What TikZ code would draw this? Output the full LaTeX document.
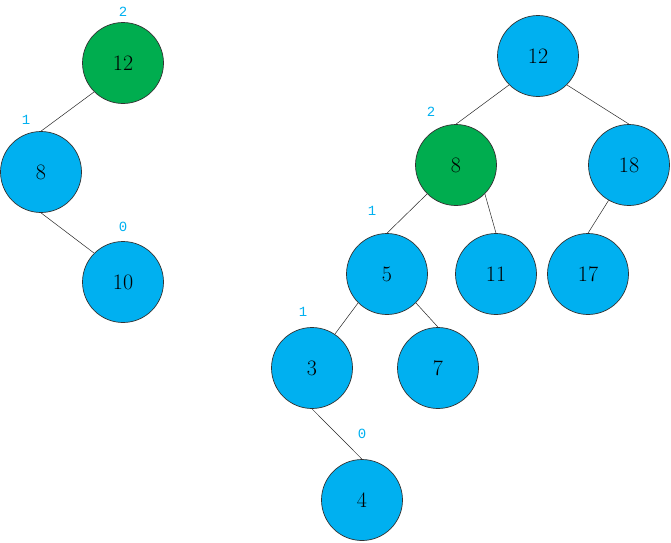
\documentclass[tikz,border=0pt]{standalone}
\usepackage{fontspec}
\newfontfamily\labfont{Liberation Mono}
\definecolor{nodeblue}{HTML}{00B0F0}
\definecolor{nodegreen}{HTML}{00AD4F}
\begin{document}
\begin{tikzpicture}[x=1pt,y=-1pt,
  tnode/.style={circle,draw=black!80,line width=0.7pt,minimum size=81pt,inner sep=0pt,fill=nodeblue,font=\fontsize{22}{26}\selectfont},
  gnode/.style={tnode,fill=nodegreen},
  hlab/.style={text=nodeblue,font=\labfont\fontsize{14}{16}\selectfont,inner sep=0pt},
  edge/.style={draw=black!85,line width=0.5pt}]
\useasboundingbox (0,0) rectangle (671,542);
% left tree
\node[gnode] (L12) at (123,63) {12};
\node[tnode] (L8) at (41,172) {8};
\node[tnode] (L10) at (123,282) {10};
\node[hlab] (hL12) at (123,12) {2};
\node[hlab] (hL8) at (26,120) {1};
\node[hlab] (hL10) at (123,227) {0};
\draw[edge] (L12.225) -- (L8.north);
\draw[edge] (L8.south) -- (L10.135);
% right tree
\node[tnode] (R12) at (538,56) {12};
\node[gnode] (R8) at (456,165) {8};
\node[tnode] (R18) at (629,165) {18};
\node[tnode] (R5) at (387,274) {5};
\node[tnode] (R11) at (496,274) {11};
\node[tnode] (R17) at (588,274) {17};
\node[tnode] (R3) at (312,368) {3};
\node[tnode] (R7) at (438,368) {7};
\node[tnode] (R4) at (362,500) {4};
\node[hlab] (hR8) at (431,112) {2};
\node[hlab] (hR5) at (372,211) {1};
\node[hlab] (hR3) at (303,312) {1};
\node[hlab] (hR4) at (362,434) {0};
\draw[edge] (R12.225) -- (R8.north);
\draw[edge] (R12.-45) -- (R18.north);
\draw[edge] (R8.225) -- (R5.north);
\draw[edge] (R8.-45) -- (R11.north);
\draw[edge] (R18.-120) -- (R17.north);
\draw[edge] (R5.225) -- (R3.56);
\draw[edge] (R5.-45) -- (R7.north);
\draw[edge] (R3.south) -- (R4.north);
\end{tikzpicture}
\end{document}
